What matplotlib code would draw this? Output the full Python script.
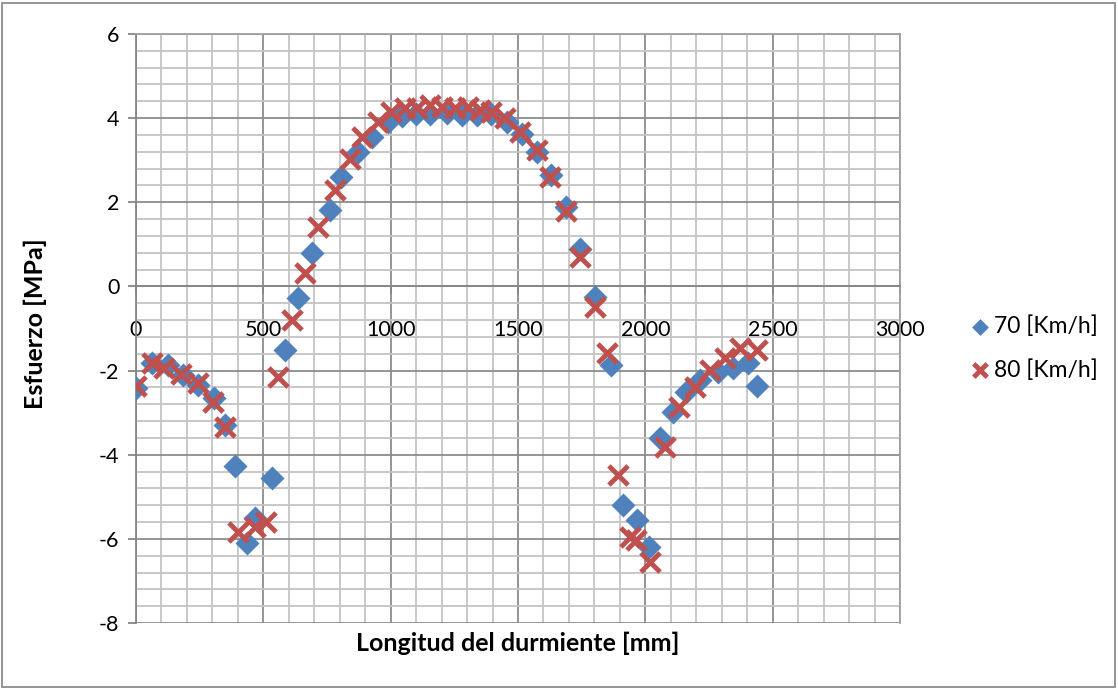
import matplotlib
matplotlib.use("Agg")
import matplotlib.pyplot as plt
from matplotlib.ticker import MultipleLocator
from matplotlib.patches import Rectangle

# ---- data ----
x70 = [0, 62, 127, 186, 245, 307, 350, 389, 435, 467, 533, 585, 636, 690, 760, 806,
       872, 925, 990, 1045, 1100, 1154, 1220, 1279, 1338, 1395, 1456, 1515, 1574,
       1628, 1687, 1743, 1802, 1867, 1914, 1969, 2016, 2057, 2109, 2161, 2215, 2287,
       2345, 2404, 2437]
y70 = [-2.42, -1.83, -1.87, -2.10, -2.34, -2.65, -3.30, -4.26, -6.10, -5.51, -4.55,
       -1.51, -0.28, 0.79, 1.82, 2.61, 3.20, 3.56, 3.91, 4.05, 4.10, 4.10, 4.12, 4.08,
       4.08, 4.10, 3.92, 3.62, 3.20, 2.65, 1.88, 0.88, -0.26, -1.87, -5.20, -5.55,
       -6.20, -3.61, -2.98, -2.50, -2.22, -2.03, -1.95, -1.82, -2.36]

x80 = [0, 64, 110, 178, 245, 301, 350, 402, 467, 512, 558, 611, 664, 715, 781, 840,
       886, 951, 1002, 1056, 1102, 1154, 1200, 1252, 1305, 1351, 1395, 1447, 1506,
       1573, 1624, 1687, 1743, 1802, 1848, 1894, 1941, 1964, 2018, 2076, 2134, 2194,
       2254, 2313, 2372, 2437]
y80 = [-2.36, -1.83, -1.95, -2.07, -2.30, -2.74, -3.33, -5.83, -5.71, -5.59, -2.15,
       -0.80, 0.31, 1.42, 2.29, 3.04, 3.56, 3.92, 4.15, 4.23, 4.25, 4.31, 4.27, 4.25,
       4.27, 4.19, 4.15, 4.00, 3.68, 3.24, 2.61, 1.80, 0.71, -0.48, -1.59, -4.48,
       -5.95, -6.03, -6.54, -3.81, -2.86, -2.38, -1.99, -1.71, -1.47, -1.51]

label70 = "70 [Km/h]"
label80 = "80 [Km/h]"
xlabel = "Longitud del durmiente [mm]"
ylabel = "Esfuerzo [MPa]"

plt.rcParams['font.family'] = ['Lato', 'DejaVu Sans']
plt.rcParams['axes.unicode_minus'] = False

fig = plt.figure(figsize=(11.18, 6.89), dpi=100)
ax = fig.add_axes([136/1118, 1-623/689, (900-136)/1118, (623-34)/689])

ax.set_xlim(0, 3000)
ax.set_ylim(-8, 6)
ax.xaxis.set_major_locator(MultipleLocator(500))
ax.xaxis.set_minor_locator(MultipleLocator(100))
ax.yaxis.set_major_locator(MultipleLocator(2))
ax.yaxis.set_minor_locator(MultipleLocator(0.4))

ax.grid(which='minor', color='#c4c4c4', linewidth=1.3)
ax.grid(which='major', color='#8c8c8c', linewidth=1.3)
ax.set_axisbelow(True)

for s in ['top', 'right']:
    ax.spines[s].set_color('#a0a0a0')
    ax.spines[s].set_linewidth(1.3)
ax.spines['left'].set_color('#868686')
ax.spines['left'].set_linewidth(1.3)
ax.spines['bottom'].set_position(('data', 0))
ax.spines['bottom'].set_color('#868686')
ax.spines['bottom'].set_linewidth(1.3)

ax.tick_params(which='minor', length=0)
ax.tick_params(which='major', length=6, width=1.3, color='#868686', labelsize=15.5)
ax.tick_params(axis='x', pad=18)
ax.tick_params(axis='y', pad=6)

ax.scatter(x70, y70, marker='D', s=150, color='#4F81BD', label=label70, zorder=3, linewidths=0)
ax.scatter(x80, y80, marker='x', s=190, color='#C0504D', label=label80, zorder=4, linewidths=3.5)

fig.text(518/1118, 1-643/689, xlabel, ha='center', va='center', fontsize=18, fontweight='bold')
fig.text(35/1118, 1-324/689, ylabel, ha='center', va='center', rotation=90, fontsize=18, fontweight='bold')

leg = fig.legend(loc='center left', bbox_to_anchor=(946/1118, 1-348/689), frameon=False,
                 fontsize=16.5, handletextpad=0.0, labelspacing=0.95, handlelength=1.2,
                 markerscale=0.7)

fig.add_artist(Rectangle((2/1118, 2/689), 1113/1118, 684/689, transform=fig.transFigure,
                         fill=False, edgecolor='#8c8c8c', linewidth=1.3))

fig.savefig("out.png", dpi=100)
